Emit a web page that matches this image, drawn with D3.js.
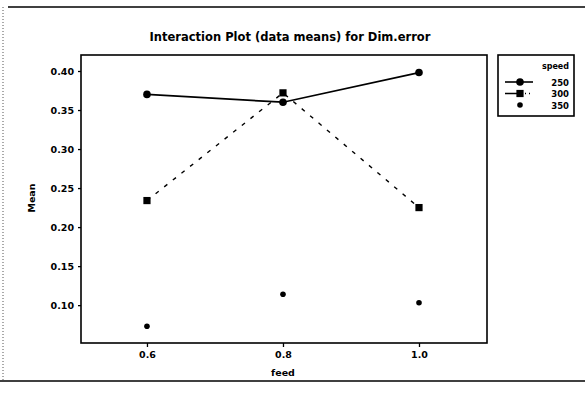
<!DOCTYPE html>
<html>
<head>
<meta charset="utf-8">
<script src="https://cdn.jsdelivr.net/npm/d3@7"></script>
<style>
  body { margin: 0; background: #fff; }
  text { font-family: "DejaVu Sans", sans-serif; font-weight: bold; fill: #000; }
</style>
</head>
<body>
<svg id="chart" width="585" height="396"></svg>
<script>
const feed = [0.6, 0.8, 1.0];
const speeds = ['250', '300', '350'];
const mean250 = [0.370, 0.360, 0.398];
const mean300 = [0.234, 0.372, 0.225];
const mean350 = [0.073, 0.114, 0.103];
const yTicks = [0.10, 0.15, 0.20, 0.25, 0.30, 0.35, 0.40];

const series = [
  { name: speeds[0], values: mean250, line: 'solid', marker: 'circle' },
  { name: speeds[1], values: mean300, line: 'dash', marker: 'square' },
  { name: speeds[2], values: mean350, line: 'none', marker: 'dot' }
];

const svg = d3.select('#chart');
const box = { left: 81, right: 487, top: 55, bottom: 343 };

const x = d3.scaleLinear().domain([0.503, 1.1]).range([box.left, box.right]);
const y = d3.scaleLinear().domain([0.0515, 0.4205]).range([box.bottom, box.top]);

// page frame (scanned look)
svg.append('line').attr('x1', 8).attr('x2', 585).attr('y1', 7).attr('y2', 7)
  .attr('stroke', '#000').attr('stroke-width', 1.5);
svg.append('line').attr('x1', 3).attr('x2', 3).attr('y1', 7).attr('y2', 380)
  .attr('stroke', '#555').attr('stroke-width', 1).attr('stroke-dasharray', '1,2');
svg.append('line').attr('x1', 0).attr('x2', 585).attr('y1', 381).attr('y2', 381)
  .attr('stroke', '#000').attr('stroke-width', 1.5);

// title
svg.append('text').attr('x', 290).attr('y', 41).attr('text-anchor', 'middle')
  .attr('font-size', 11.5).text('Interaction Plot (data means) for Dim.error');

// plot box
svg.append('rect').attr('x', box.left).attr('y', box.top)
  .attr('width', box.right - box.left).attr('height', box.bottom - box.top)
  .attr('fill', 'none').attr('stroke', '#000').attr('stroke-width', 1.6);

// axes
const yAxis = svg.append('g').attr('transform', `translate(${box.left},0)`)
  .call(d3.axisLeft(y).tickValues(yTicks).tickFormat(d3.format('.2f')).tickSize(3).tickPadding(4));
const xAxis = svg.append('g').attr('transform', `translate(0,${box.bottom})`)
  .call(d3.axisBottom(x).tickValues(feed).tickFormat(d3.format('.1f')).tickSize(4).tickPadding(4));
[yAxis, xAxis].forEach(a => {
  a.select('.domain').remove();
  a.selectAll('.tick line').attr('stroke', '#000').attr('stroke-width', 1.3);
  a.selectAll('.tick text').attr('font-size', 9.5).attr('font-family', '"DejaVu Sans", sans-serif')
    .attr('font-weight', 'bold');
});

// axis titles
svg.append('text').attr('x', 283).attr('y', 376).attr('text-anchor', 'middle')
  .attr('font-size', 9.5).text('feed');
svg.append('text').attr('transform', 'translate(35,198) rotate(-90)').attr('text-anchor', 'middle')
  .attr('font-size', 9.5).text('Mean');

function marker(g, type, cx, cy) {
  if (type === 'circle') {
    g.append('circle').attr('cx', cx).attr('cy', cy).attr('r', 3.8).attr('fill', '#000');
  } else if (type === 'square') {
    g.append('rect').attr('x', cx - 3.6).attr('y', cy - 3.6).attr('width', 7.2).attr('height', 7.2).attr('fill', '#000');
  } else {
    g.append('circle').attr('cx', cx).attr('cy', cy).attr('r', 2.8).attr('fill', '#000');
  }
}

const lineGen = d3.line().x((d, i) => x(feed[i])).y(d => y(d));
const plot = svg.append('g');

series.forEach(s => {
  if (s.line !== 'none') {
    plot.append('path').datum(s.values).attr('d', lineGen).attr('fill', 'none')
      .attr('stroke', '#000').attr('stroke-width', s.line === 'solid' ? 1.7 : 1.4)
      .attr('stroke-dasharray', s.line === 'dash' ? '4,7' : null);
  }
});
series.slice().reverse().forEach(s => {
  s.values.forEach((v, i) => marker(plot, s.marker, x(feed[i]), y(v)));
});

// legend
const lg = svg.append('g');
lg.append('rect').attr('x', 498).attr('y', 55).attr('width', 76).attr('height', 61)
  .attr('fill', 'none').attr('stroke', '#000').attr('stroke-width', 1.6);
lg.append('text').attr('x', 569).attr('y', 69).attr('text-anchor', 'end').attr('font-size', 8).text('speed');
series.forEach((s, i) => {
  const ly = 82 + i * 11.5;
  if (s.line === 'solid') {
    lg.append('line').attr('x1', 505).attr('x2', 533).attr('y1', ly).attr('y2', ly)
      .attr('stroke', '#000').attr('stroke-width', 1.6);
  } else if (s.line === 'dash') {
    lg.append('line').attr('x1', 505).attr('x2', 530).attr('y1', ly).attr('y2', ly)
      .attr('stroke', '#000').attr('stroke-width', 1.4).attr('stroke-dasharray', '15,5,1,3');
  }
  marker(lg, s.marker, 520, ly);
  lg.append('text').attr('x', 569).attr('y', ly + 3.5).attr('text-anchor', 'end').attr('font-size', 8.5).text(s.name);
});
</script>
</body>
</html>
